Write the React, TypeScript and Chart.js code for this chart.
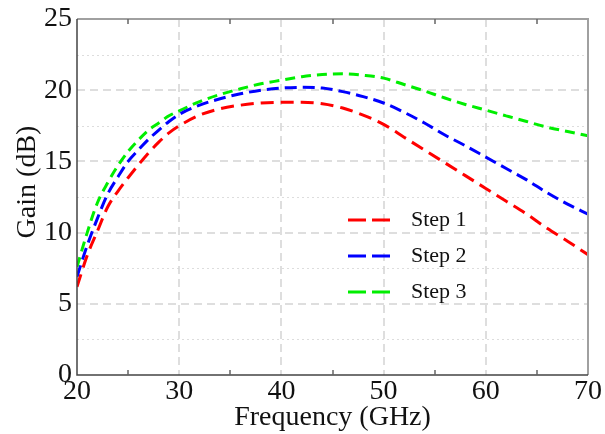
import React, { useEffect, useRef } from "react";
import { Chart, registerables } from "chart.js";

Chart.register(...registerables);

const frequency = [20, 21, 22, 23, 24, 25, 26, 27, 28, 29, 30, 32, 34, 36, 38, 40, 42, 44, 46, 48, 50, 52, 54, 56, 58, 60, 62, 64, 66, 68, 70];
const step1 = [6.2, 8.4, 10.1, 11.8, 12.9, 13.85, 14.75, 15.6, 16.35, 17.0, 17.5, 18.25, 18.7, 18.95, 19.1, 19.15, 19.15, 19.05, 18.75, 18.25, 17.6, 16.7, 15.8, 14.9, 14.0, 13.1, 12.2, 11.3, 10.3, 9.4, 8.45];
const step2 = [6.9, 9.1, 11.0, 12.7, 13.9, 15.0, 15.8, 16.55, 17.2, 17.8, 18.3, 18.95, 19.4, 19.75, 20.0, 20.15, 20.2, 20.15, 19.9, 19.55, 19.1, 18.45, 17.7, 16.85, 16.1, 15.3, 14.5, 13.7, 12.8, 12.0, 11.3];
const step3 = [7.6, 10.0, 12.1, 13.5, 14.7, 15.7, 16.5, 17.2, 17.7, 18.2, 18.55, 19.2, 19.7, 20.1, 20.45, 20.7, 20.95, 21.1, 21.15, 21.05, 20.85, 20.4, 19.95, 19.45, 19.0, 18.6, 18.2, 17.8, 17.4, 17.1, 16.8];
const seriesNames = ["Step 1", "Step 2", "Step 3"];
const xMajorTicks = [20, 30, 40, 50, 60, 70];
const xMinorTicks = [25, 35, 45, 55, 65];
const yMajorTicks = [0, 5, 10, 15, 20, 25];
const yMinorTicks = [2.5, 7.5, 12.5, 17.5, 22.5];
const xTitle = "Frequency (GHz)";
const yTitle = "Gain (dB)";

const FONT = "'Liberation Serif', 'Times New Roman', serif";
const colors = ["#ff0000", "#0000ff", "#00ee00"];
const dashes = [[13, 7], [12, 6], [10, 6]];

const framePlugin = {
  id: "framePlugin",
  beforeDatasetsDraw(chart: any) {
    const { ctx, chartArea: a, scales } = chart;
    const xs = scales.x;
    const ys = scales.y;
    ctx.save();
    // minor dotted horizontal grid
    ctx.strokeStyle = "#dddddd";
    ctx.lineWidth = 1;
    ctx.setLineDash([2, 3]);
    for (const v of yMinorTicks) {
      const y = Math.round(ys.getPixelForValue(v)) + 0.5;
      ctx.beginPath();
      ctx.moveTo(a.left, y);
      ctx.lineTo(a.right, y);
      ctx.stroke();
    }
    // major dashed grid
    ctx.strokeStyle = "#d4d4d4";
    ctx.lineWidth = 1.5;
    ctx.setLineDash([8, 5]);
    for (const v of yMajorTicks) {
      if (v === 0 || v === 25) continue;
      const y = Math.round(ys.getPixelForValue(v));
      ctx.beginPath();
      ctx.moveTo(a.left, y);
      ctx.lineTo(a.right, y);
      ctx.stroke();
    }
    for (const v of xMajorTicks) {
      if (v === 20 || v === 70) continue;
      const x = Math.round(xs.getPixelForValue(v));
      ctx.beginPath();
      ctx.moveTo(x, a.top);
      ctx.lineTo(x, a.bottom);
      ctx.stroke();
    }
    ctx.restore();
  },
  afterDatasetsDraw(chart: any) {
    const { ctx, chartArea: a, scales } = chart;
    const xs = scales.x;
    ctx.save();
    ctx.setLineDash([]);
    // top & right border (light)
    ctx.strokeStyle = "#a0a0a0";
    ctx.lineWidth = 2;
    ctx.beginPath();
    ctx.moveTo(a.left, a.top);
    ctx.lineTo(a.right, a.top);
    ctx.lineTo(a.right, a.bottom);
    ctx.stroke();
    // left & bottom axis (dark)
    ctx.strokeStyle = "#444444";
    ctx.lineWidth = 1.5;
    ctx.beginPath();
    ctx.moveTo(a.left, a.top);
    ctx.lineTo(a.left, a.bottom);
    ctx.lineTo(a.right, a.bottom);
    ctx.stroke();
    // minor ticks
    ctx.strokeStyle = "#666666";
    ctx.lineWidth = 1.5;
    for (const v of xMinorTicks) {
      const x = Math.round(xs.getPixelForValue(v));
      ctx.beginPath();
      ctx.moveTo(x, a.top);
      ctx.lineTo(x, a.top + 5);
      ctx.moveTo(x, a.bottom);
      ctx.lineTo(x, a.bottom - 5);
      ctx.stroke();
    }
    // legend
    const rows = [220, 256, 292];
    chart.data.datasets.forEach((ds: any, i: number) => {
      const y = rows[i];
      ctx.strokeStyle = ds.borderColor;
      ctx.lineWidth = 3;
      ctx.beginPath();
      ctx.moveTo(348, y);
      ctx.lineTo(366, y);
      ctx.moveTo(372, y);
      ctx.lineTo(390, y);
      ctx.stroke();
      ctx.fillStyle = "#111111";
      ctx.font = `22px ${FONT}`;
      ctx.textAlign = "left";
      ctx.textBaseline = "middle";
      ctx.fillText(ds.label, 411, y);
    });
    // axis titles
    ctx.fillStyle = "#111111";
    ctx.font = `28px ${FONT}`;
    ctx.textAlign = "center";
    ctx.textBaseline = "alphabetic";
    ctx.fillText(xTitle, (a.left + a.right) / 2, 425);
    ctx.translate(35, 182);
    ctx.rotate(-Math.PI / 2);
    ctx.fillText(yTitle, 0, 0);
    ctx.restore();
  },
};

export default function App() {
  const ref = useRef<HTMLCanvasElement>(null);
  useEffect(() => {
    document.body.style.margin = "0";
    const cv = ref.current;
    if (!cv) return;
    const data = [step1, step2, step3];
    const chart = new Chart(cv, {
      type: "line",
      data: {
        datasets: data.map((vals, i) => ({
          label: seriesNames[i],
          data: frequency.map((f, j) => ({ x: f, y: vals[j] })),
          borderColor: colors[i],
          backgroundColor: colors[i],
          borderWidth: 3,
          borderDash: dashes[i],
          pointRadius: 0,
          fill: false,
          cubicInterpolationMode: "monotone",
        })),
      },
      options: {
        responsive: false,
        animation: false,
        devicePixelRatio: 1,
        layout: { padding: { left: 0, right: 16, top: 15, bottom: 0 } },
        plugins: { legend: { display: false }, tooltip: { enabled: false } },
        scales: {
          x: {
            type: "linear",
            min: 20,
            max: 70,
            afterFit: (s: any) => { s.height = 59; },
            afterBuildTicks: (s: any) => { s.ticks = xMajorTicks.map((v) => ({ value: v })); },
            grid: { display: false, drawTicks: false },
            border: { display: false },
            ticks: {
              padding: 3,
              color: "#111111",
              font: { family: FONT, size: 28, lineHeight: 1 },
              maxRotation: 0,
            },
          },
          y: {
            type: "linear",
            min: 0,
            max: 25,
            afterFit: (s: any) => { s.width = 77; },
            afterBuildTicks: (s: any) => { s.ticks = yMajorTicks.map((v) => ({ value: v })); },
            grid: { display: false, drawTicks: false },
            border: { display: false },
            ticks: {
              padding: 5,
              color: "#111111",
              font: { family: FONT, size: 28, lineHeight: 1 },
            },
          },
        },
      },
      plugins: [framePlugin],
    });
    return () => chart.destroy();
  }, []);
  return (
    <div style={{ position: "absolute", left: 0, top: 0, width: 605, height: 434, background: "#fff" }}>
      <canvas ref={ref} width={605} height={434} />
    </div>
  );
}
